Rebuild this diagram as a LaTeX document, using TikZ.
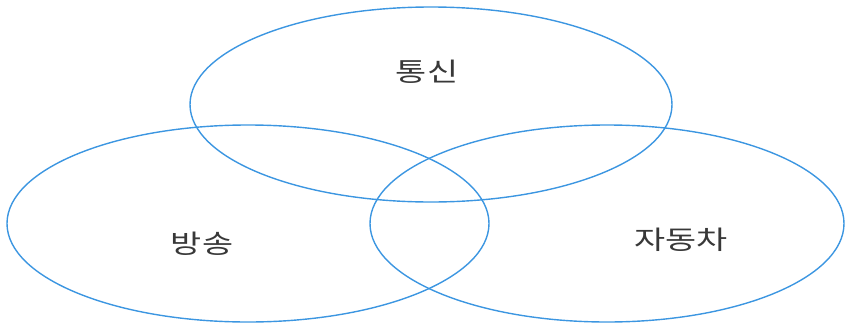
\documentclass[tikz,border=0pt]{standalone}
\usepackage{graphicx}
\usepackage{fontspec}
\newfontfamily\cjk{Noto Sans CJK KR}
\definecolor{vblue}{RGB}{60,150,225}
\newcommand{\widetxt}[1]{\scalebox{1.3}[1]{#1}}
\begin{document}
\begin{tikzpicture}[x=1pt,y=-1pt,
  setring/.style={draw=vblue,line width=1.4pt},
  lbl/.style={font=\cjk\fontsize{26}{30}\selectfont,text=black!78,inner sep=0pt}]
\useasboundingbox (0,0) rectangle (846,327);
\draw[setring] (431,104.5) ellipse [x radius=241,y radius=97.5];
\draw[setring] (248,223.5) ellipse [x radius=241,y radius=98.5];
\draw[setring] (607,223.5) ellipse [x radius=237,y radius=98.5];
\node[lbl] (comm) at (427,71.5) {\widetxt{통신}};
\node[lbl] (broad) at (202,243.5) {\widetxt{방송}};
\node[lbl] (car) at (681,240) {\widetxt{자동차}};
\end{tikzpicture}
\end{document}
